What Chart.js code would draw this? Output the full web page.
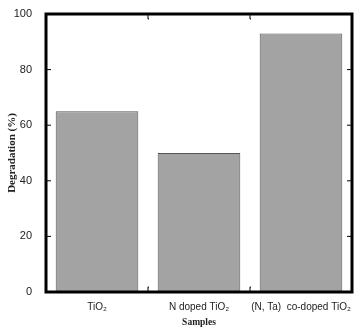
<!DOCTYPE html>
<html lang="en">
<head>
  <meta charset="UTF-8">
  <title>Degradation</title>
  <script src="https://cdn.jsdelivr.net/npm/chart.js"></script>
  <style>
    html, body { margin: 0; padding: 0; background: #fff; }
    #wrap { width: 363px; height: 328px; position: relative; }
  </style>
</head>
<body>
<div id="wrap"><canvas id="myChart"></canvas></div>
<script>
  // data
  const samples = ['TiO₂', 'N doped TiO₂', '(N, Ta)  co-doped TiO₂'];
  const degradation = [65, 50, 93];
  const yTicks = [0, 20, 40, 60, 80, 100];

  // frame + inward tick marks like the original plot
  const framePlugin = {
    id: 'frame',
    afterDatasetsDraw(chart) {
      const { ctx, chartArea: a, scales } = chart;
      ctx.save();
      ctx.strokeStyle = '#000';
      ctx.lineWidth = 1;
      ctx.beginPath();
      yTicks.forEach(v => {
        const y = scales.y.getPixelForValue(v);
        if (v === 0 || v === 100) return;
        ctx.moveTo(a.left, y); ctx.lineTo(a.left + 5, y);
        ctx.moveTo(a.right, y); ctx.lineTo(a.right - 5, y);
      });
      // category boundary marks
      for (let i = 1; i < samples.length; i++) {
        const x = (scales.x.getPixelForTick(i - 1) + scales.x.getPixelForTick(i)) / 2;
        ctx.moveTo(x + 1, a.bottom - 5); ctx.lineTo(x, a.bottom - 5); ctx.lineTo(x, a.bottom);
        ctx.moveTo(x + 1, a.top + 5); ctx.lineTo(x, a.top + 5); ctx.lineTo(x, a.top);
      }
      ctx.stroke();
      ctx.lineWidth = 3;
      ctx.strokeRect(a.left, a.top, a.right - a.left, a.bottom - a.top);
      ctx.restore();
    }
  };

  const ctx = document.getElementById('myChart').getContext('2d');
  new Chart(ctx, {
    type: 'bar',
    data: {
      labels: samples,
      datasets: [{
        data: degradation,
        backgroundColor: '#a3a3a3',
        borderColor: '#555',
        borderWidth: 1,
        barPercentage: 0.81,
        categoryPercentage: 1
      }]
    },
    options: {
      responsive: true,
      maintainAspectRatio: false,
      animation: false,
      layout: { padding: { top: 14, right: 11, left: 0, bottom: 0 } },
      plugins: { legend: { display: false }, tooltip: { enabled: false } },
      scales: {
        x: {
          grid: { display: false },
          border: { display: false },
          ticks: {
            color: '#222',
            font: { family: 'Liberation Sans', size: 10 },
            maxRotation: 0, autoSkip: false, padding: 1
          },
          title: {
            display: true, text: 'Samples', color: '#222',
            font: { family: 'Liberation Serif', size: 9.5, weight: 'bold' },
            padding: { top: 2, bottom: 0 }
          },
          afterFit: s => { s.height = 36; }
        },
        y: {
          min: 0, max: 100,
          grid: { display: false },
          border: { display: false },
          ticks: {
            stepSize: 20, color: '#222', padding: 6,
            font: { family: 'Liberation Sans', size: 11 }
          },
          title: {
            display: true, text: 'Degradation (%)', color: '#222',
            font: { family: 'Liberation Serif', size: 11, weight: 'bold' },
            padding: { top: 6, bottom: 0 }
          },
          afterFit: s => { s.width = 46; }
        }
      }
    },
    plugins: [framePlugin]
  });
</script>
</body>
</html>
